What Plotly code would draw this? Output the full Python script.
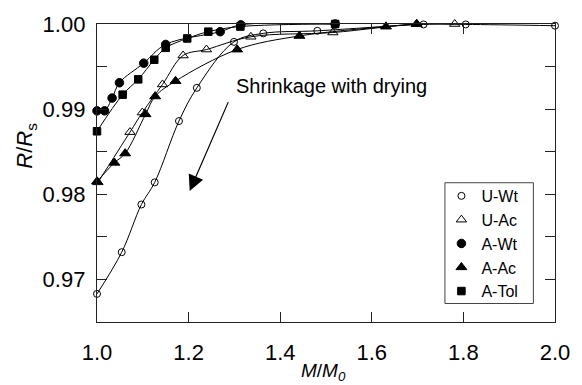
import plotly.graph_objects as go

# ---- data ----
uwt_x = [1.0, 1.054, 1.097, 1.126, 1.179, 1.218, 1.299, 1.363, 1.481, 1.713, 1.805, 2.0]
uwt_y = [0.9683, 0.9732, 0.9788, 0.9814, 0.9886, 0.9925, 0.9979, 0.9989, 0.9992, 0.99995, 0.99995, 0.9998]

uac_x = [1.002, 1.072, 1.099, 1.143, 1.188, 1.239, 1.336, 1.515, 1.698, 1.781]
uac_y = [0.9814, 0.9873, 0.9896, 0.9929, 0.9963, 0.9970, 0.9985, 0.9990, 1.0, 1.0]

awt_x = [1.0, 1.0165, 1.033, 1.049, 1.102, 1.150, 1.269, 1.314, 1.52]
awt_y = [0.9898, 0.9898, 0.9913, 0.9931, 0.9954, 0.9976, 0.9991, 0.9999, 1.0]

aac_x = [1.0, 1.038, 1.0615, 1.106, 1.127, 1.1715, 1.306, 1.442, 1.631, 1.698]
aac_y = [0.9815, 0.9837, 0.9848, 0.9894, 0.9915, 0.9933, 0.9970, 0.9986, 0.9997, 1.0]

atol_x = [1.0, 1.056, 1.090, 1.125, 1.150, 1.197, 1.243, 1.313, 1.52]
atol_y = [0.9874, 0.9917, 0.9935, 0.9958, 0.9972, 0.9983, 0.9991, 0.9997, 1.0]

x_ticks = [1.0, 1.2, 1.4, 1.6, 1.8, 2.0]
y_ticks = [0.97, 0.98, 0.99, 1.00]

FONT = "Arial, Liberation Sans, sans-serif"

series = [
    ("U-Wt", uwt_x, uwt_y, dict(symbol="circle-open", size=7)),
    ("U-Ac", uac_x, uac_y, dict(symbol="triangle-up-open", size=9)),
    ("A-Wt", awt_x, awt_y, dict(symbol="circle", size=8.5)),
    ("A-Ac", aac_x, aac_y, dict(symbol="triangle-up", size=9.5)),
    ("A-Tol", atol_x, atol_y, dict(symbol="square", size=7.5)),
]

fig = go.Figure()
for name, xs, ys, mk in series:
    fig.add_trace(go.Scatter(
        x=xs, y=ys, name=name, mode="lines", showlegend=False,
        line=dict(color="black", width=1, shape="spline", smoothing=1.0),
        cliponaxis=False, hoverinfo="skip",
    ))
for name, xs, ys, mk in series:
    fig.add_trace(go.Scatter(
        x=xs, y=ys, name=name, mode="markers",
        marker=dict(color="black", line=dict(color="black", width=1), **mk),
        cliponaxis=False,
    ))

axis_common = dict(
    showline=True, linecolor="#222", linewidth=1.3, mirror="ticks",
    ticks="inside", ticklen=10, tickcolor="#222", tickwidth=1.3,
    showgrid=False, zeroline=False,
    tickfont=dict(family=FONT, size=22, color="black"),
)

fig.update_xaxes(range=[1.0, 2.0], tickvals=x_ticks, tickformat=".1f",
                 ticklabelstandoff=10, **axis_common)
fig.update_yaxes(range=[0.965, 1.0], tickvals=y_ticks, tickformat=".2f",
                 ticklabelstandoff=6,
                 minor=dict(dtick=0.005, ticks="inside", ticklen=10,
                            tickcolor="#222", tickwidth=1.3),
                 **axis_common)

fig.update_layout(
    width=582, height=385,
    margin=dict(l=97, r=19, t=16, b=63),
    paper_bgcolor="white", plot_bgcolor="white",
    font=dict(family=FONT, color="black"),
    showlegend=True,
    legend=dict(x=0.752, y=0.48, xanchor="left", yanchor="top",
                bgcolor="rgba(0,0,0,0)", borderwidth=0,
                font=dict(family=FONT, size=16, color="black")),
    shapes=[dict(type="rect", xref="paper", yref="paper",
                 x0=(451 - 97) / 466, x1=(541 - 97) / 466,
                 y0=(322 - 303) / 306, y1=(322 - 179) / 306,
                 line=dict(color="#444", width=1), fillcolor="white",
                 layer="below")],
    annotations=[
        dict(text="Shrinkage with drying", x=1.2995, y=0.99268, xref="x", yref="y",
             xanchor="left", yanchor="middle", showarrow=False,
             font=dict(family=FONT, size=20, color="black")),
        dict(text="", x=1.2024, y=0.9804, ax=1.288, ay=0.9910,
             xref="x", yref="y", axref="x", ayref="y",
             showarrow=True, arrowhead=2, arrowsize=2.6, arrowwidth=1.2,
             arrowcolor="black"),
        dict(text="<i>R</i>/<i>R</i><sub>s</sub>", xref="paper", yref="paper",
             x=-0.155, y=(322 - 141) / 306, xanchor="center", yanchor="middle",
             textangle=-90, showarrow=False,
             font=dict(family=FONT, size=22, color="black")),
        dict(text="<i>M</i>/<i>M<sub>0</sub></i>", xref="paper", yref="paper",
             x=(327 - 97) / 466, y=-(373 - 322) / 306, xanchor="center",
             yanchor="middle", showarrow=False,
             font=dict(family=FONT, size=19, color="black")),
    ],
)

fig.write_html("out.html")
